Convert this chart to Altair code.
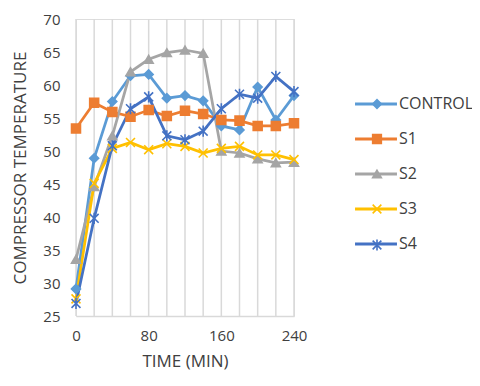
import altair as alt
import pandas as pd

times = [0, 20, 40, 60, 80, 100, 120, 140, 160, 180, 200, 220, 240]
series_names = ["CONTROL", "S1", "S2", "S3", "S4"]
control = [29.1, 48.9, 57.5, 61.4, 61.6, 58.0, 58.4, 57.6, 53.8, 53.2, 59.7, 54.7, 58.4]
s1 = [53.4, 57.3, 55.9, 55.2, 56.2, 55.3, 56.1, 55.6, 54.7, 54.6, 53.8, 53.8, 54.2]
s2 = [33.6, 44.6, 52.3, 62.0, 63.9, 64.9, 65.3, 64.8, 50.0, 49.7, 48.8, 48.2, 48.3]
s3 = [27.6, 45.1, 50.4, 51.3, 50.2, 51.1, 50.7, 49.7, 50.4, 50.7, 49.4, 49.4, 48.7]
s4 = [26.9, 39.8, 50.8, 56.4, 58.2, 52.3, 51.7, 53.0, 56.4, 58.6, 58.0, 61.3, 59.0]
y_ticks = [25, 30, 35, 40, 45, 50, 55, 60, 65, 70]
colors = ["#5B9BD5", "#ED7D31", "#A5A5A5", "#FFC000", "#4472C4"]

X_PATH = "M-1,-1L1,1M-1,1L1,-1"
STAR_PATH = "M-1,-1L1,1M-1,1L1,-1M0,-1.25L0,1.25"
shapes = ["diamond", "square", "triangle-up", X_PATH, STAR_PATH]

rows = []
for name, vals in zip(series_names, [control, s1, s2, s3, s4]):
    for t, v in zip(times, vals):
        rows.append({"time": t, "series": name, "marker": name + " ", "value": v})
df = pd.DataFrame(rows)
marker_names = [n + " " for n in series_names]
grid_df = pd.DataFrame({"time": times})

FONT = "Open Sans"

x_scale = alt.Scale(domain=[0, 240], nice=False, zero=False)
x_enc = alt.X(
    "time:Q",
    scale=x_scale,
    axis=alt.Axis(
        title="TIME (MIN)",
        values=times,
        labelExpr="datum.value % 40 == 0 ? datum.label : ''",
        labelOverlap=False,
        labelFlush=False,
        grid=False,
        ticks=False,
        domainColor="#D9D9D9",
        domainWidth=1.5,
        labelFont=FONT,
        labelFontSize=15,
        labelColor="#404040",
        labelPadding=12,
        titleFont=FONT,
        titleFontSize=17,
        titleFontWeight="normal",
        titleColor="#404040",
        titlePadding=10,
    ),
)
y_enc = alt.Y(
    "value:Q",
    scale=alt.Scale(domain=[25, 70], nice=False, zero=False),
    axis=alt.Axis(
        title="COMPRESSOR TEMPERATURE",
        values=y_ticks,
        labelOverlap=False,
        labelFlush=False,
        grid=False,
        ticks=False,
        domain=False,
        labelFont=FONT,
        labelFontSize=15,
        labelColor="#404040",
        labelPadding=16,
        titleFont=FONT,
        titleFontSize=17,
        titleFontWeight="normal",
        titleColor="#404040",
        titlePadding=13,
    ),
)

LEG_X = 292
LEG_Y = 77

line_legend = alt.Legend(
    title=None,
    orient="none",
    legendX=LEG_X,
    legendY=LEG_Y,
    padding=0,
    labelFont=FONT,
    labelFontSize=16,
    labelColor="#404040",
    labelOffset=15,
    labelLimit=300,
    rowPadding=19,
    symbolType="M-4,0L4,0",
    symbolSize=110,
    symbolStrokeWidth=3,
)

marker_legend = alt.Legend(
    title=None,
    orient="none",
    legendX=LEG_X + 1,
    legendY=LEG_Y,
    padding=0,
    labelFont=FONT,
    labelFontSize=16,
    labelExpr="''",
    labelOffset=15,
    rowPadding=19,
    symbolSize=75,
    symbolStrokeWidth=1.6,
    symbolOpacity=1,
)

grid = alt.Chart(grid_df).mark_rule(color="#D9D9D9", strokeWidth=1.5).encode(
    x=alt.X("time:Q", scale=x_scale),
)

lines = alt.Chart(df).mark_line(strokeWidth=2.75).encode(
    x=x_enc,
    y=y_enc,
    color=alt.Color("series:N", scale=alt.Scale(domain=series_names, range=colors),
                    legend=line_legend, sort=series_names),
    order=alt.Order("time:Q"),
)

points = alt.Chart(df).mark_point(filled=False, opacity=1, size=80, strokeWidth=1.6).encode(
    x=x_enc,
    y=y_enc,
    stroke=alt.Stroke("marker:N", scale=alt.Scale(domain=marker_names, range=colors),
                      legend=marker_legend),
    fill=alt.Fill("marker:N", scale=alt.Scale(domain=marker_names, range=colors),
                  legend=marker_legend),
    shape=alt.Shape("marker:N", scale=alt.Scale(domain=marker_names, range=shapes),
                    legend=marker_legend),
)

chart = (
    alt.layer(grid, lines, points)
    .properties(
        width=218,
        height=297,
        autosize=alt.AutoSizeParams(type="none"),
        padding={"left": 68, "top": 11, "right": 178, "bottom": 62},
    )
    .configure_axis(labelOverlap=False, labelFlush=False)
    .configure_view(stroke=None)
    .configure(background="white")
)

chart.save("out.html", embed_options={"renderer": "svg", "actions": False})
